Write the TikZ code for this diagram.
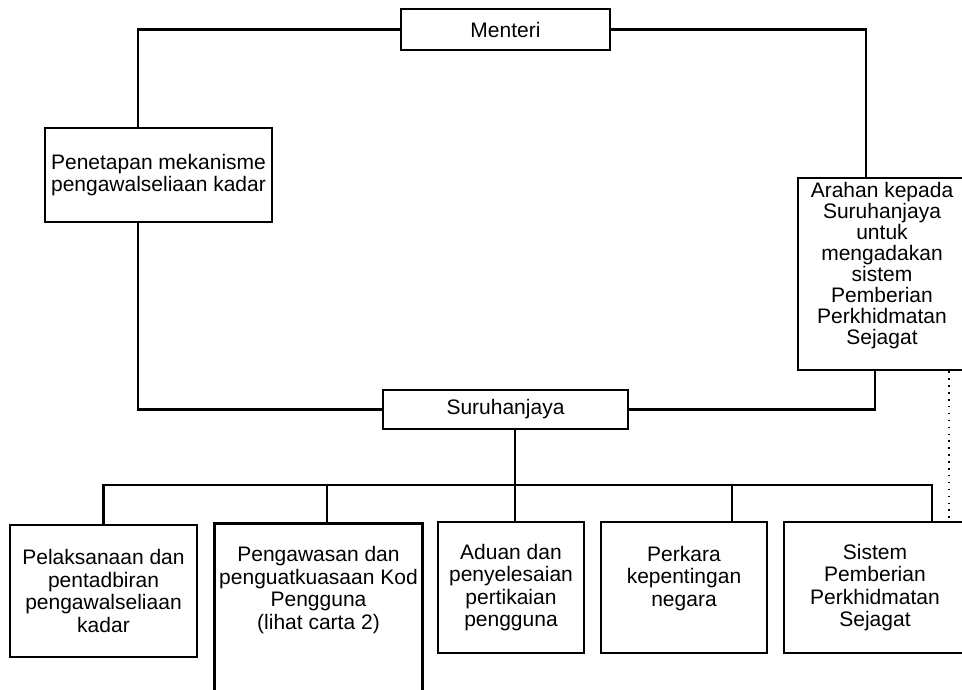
\documentclass[tikz,border=0pt]{standalone}
\usepackage{fontspec}
\setmainfont{Liberation Sans}
\begin{document}
\begin{tikzpicture}[x=1pt,y=-1pt,
  boxnode/.style={draw, line width=2.8pt, align=center, inner sep=0pt,
    font=\fontsize{21}{22.5}\selectfont},
  plain/.style={align=center, inner sep=0pt, font=\fontsize{21}{22.5}\selectfont},
  link/.style={line width=2.6pt},
  dotlink/.style={line width=1.5pt, dash pattern=on 1.5pt off 5.4pt}]
\useasboundingbox (0,0) rectangle (962,690);
\coordinate (bottom) at (0,690);
\node[boxnode, minimum width=209pt, minimum height=41pt] (menteri) at (505.5,29.5) {Menteri};
\node[boxnode, minimum width=227pt, minimum height=94pt] (penetapan) at (158.5,175)
  {Penetapan mekanisme\\pengawalseliaan kadar};
\node[boxnode, minimum width=168pt, minimum height=192pt, font=\fontsize{21}{21}\selectfont] (arahan) at (882,274)
  {Arahan kepada\\Suruhanjaya\\untuk\\mengadakan\\sistem\\Pemberian\\Perkhidmatan\\Sejagat\\\mbox{}};
\node[boxnode, minimum width=245pt, minimum height=39pt] (suruhanjaya) at (505.5,409.5) {Suruhanjaya};
\node[boxnode, minimum width=187pt, minimum height=132pt] (b1) at (103.5,591)
  {Pelaksanaan dan\\pentadbiran\\pengawalseliaan\\kadar};
\node[plain, minimum width=207pt, minimum height=132pt] (b2) at (318.5,590)
  {Pengawasan dan\\penguatkuasaan Kod\\Pengguna\\(lihat carta 2)};
\node[boxnode, minimum width=146pt, minimum height=131pt] (b3) at (511,587.5)
  {Aduan dan\\penyelesaian\\pertikaian\\pengguna};
\node[boxnode, minimum width=166pt, minimum height=131pt] (b4) at (684,587.5)
  {Perkara\\kepentingan\\negara\\\mbox{}};
\node[boxnode, minimum width=182pt, minimum height=131pt] (b5) at (875,587.5)
  {Sistem\\Pemberian\\Perkhidmatan\\Sejagat};
% open-bottom box
\draw[line width=2.8pt] (b2.north west |- bottom) -- (b2.north west) -- (b2.north east) -- (b2.north east |- bottom);
% top connectors
\draw[link] (menteri.west) -| ([xshift=-20.5pt]penetapan.north);
\draw[link] ([xshift=-20.5pt]penetapan.south) |- (suruhanjaya.west);
\draw[link] (menteri.east) -| ([xshift=-16pt]arahan.north);
\draw[link] ([xshift=-7pt]arahan.south) |- (suruhanjaya.east);
% bus
\coordinate (bus) at (515,485);
\draw[link] ([xshift=9.5pt]suruhanjaya.south) |- (bus);
\draw[link] (b1.north) |- (bus) -| ([xshift=57pt]b5.north);
\draw[link] (bus) -| ([xshift=8.5pt]b2.north);
\draw[link] (bus) -| ([xshift=4pt]b3.north);
\draw[link] (bus) -| ([xshift=48pt]b4.north);
\draw[dotlink] ([xshift=67pt]arahan.south) -- ([xshift=67pt]arahan.south |- b5.north);
\end{tikzpicture}
\end{document}
